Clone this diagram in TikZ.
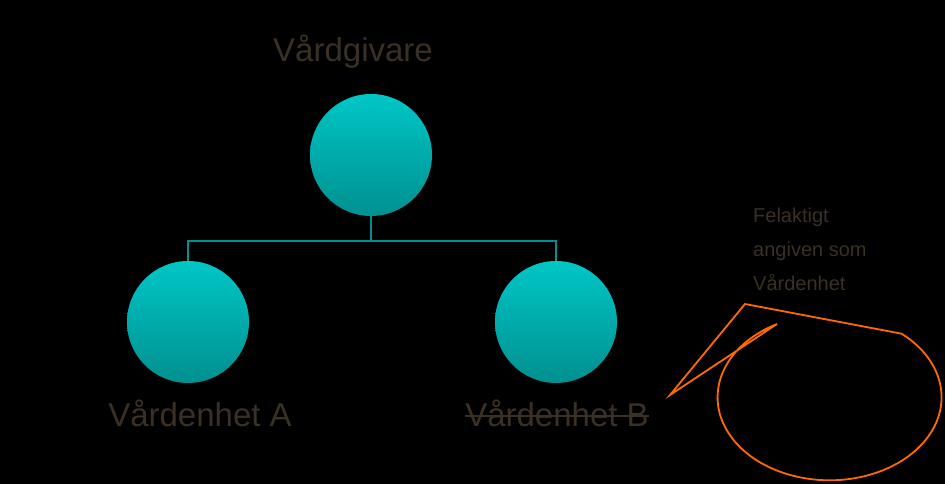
\documentclass[tikz,border=0pt]{standalone}
\usepackage{fontspec}
\setmainfont{Liberation Sans}
\usetikzlibrary{shapes.geometric}
\definecolor{txt}{HTML}{3B3024}
\definecolor{teal1}{HTML}{00C6C6}
\definecolor{teal2}{HTML}{009090}
\definecolor{org}{HTML}{FF6A00}
\begin{document}
\begin{tikzpicture}[x=1pt,y=-1pt,
  ball/.style={circle,minimum size=122pt,inner sep=0pt,top color=teal1,bottom color=teal2,draw=none},
  lab/.style={text=txt,font=\fontsize{33}{36}\selectfont,inner sep=0pt},
  conn/.style={draw=teal2,line width=1.2pt}]
\fill[black] (0,0) rectangle (945,484);
\useasboundingbox (0,0) rectangle (945,484);
\node[ball] (top) at (371,155) {};
\node[ball] (a) at (188,322) {};
\node[ball] (b) at (556,322) {};
\coordinate (mid) at (371,241);
\draw[conn] (top.south) -- (mid) -| (a.north);
\draw[conn] (mid) -| (b.north);
\node[lab] (lt) at (353,52) {Vårdgivare};
\node[lab] (la) at (200,413) {Vårdenhet A};
\node[lab] (lb) at (557,413) {Vårdenhet B};
\draw[txt,line width=1.5pt] (lb.west |- 0,416) -- (lb.east |- 0,416);
\draw[org,line width=1.8pt,line join=miter]
  (745,304) -- (670,395) -- (777,324)
  arc[start angle=-118,end angle=-410,x radius=112,y radius=83] -- cycle;
\node[text=txt,font=\fontsize{20}{34}\selectfont,align=left,anchor=north west,inner sep=0pt] (ct) at (753,208) {Felaktigt\\angiven som\\Vårdenhet};
\end{tikzpicture}
\end{document}
